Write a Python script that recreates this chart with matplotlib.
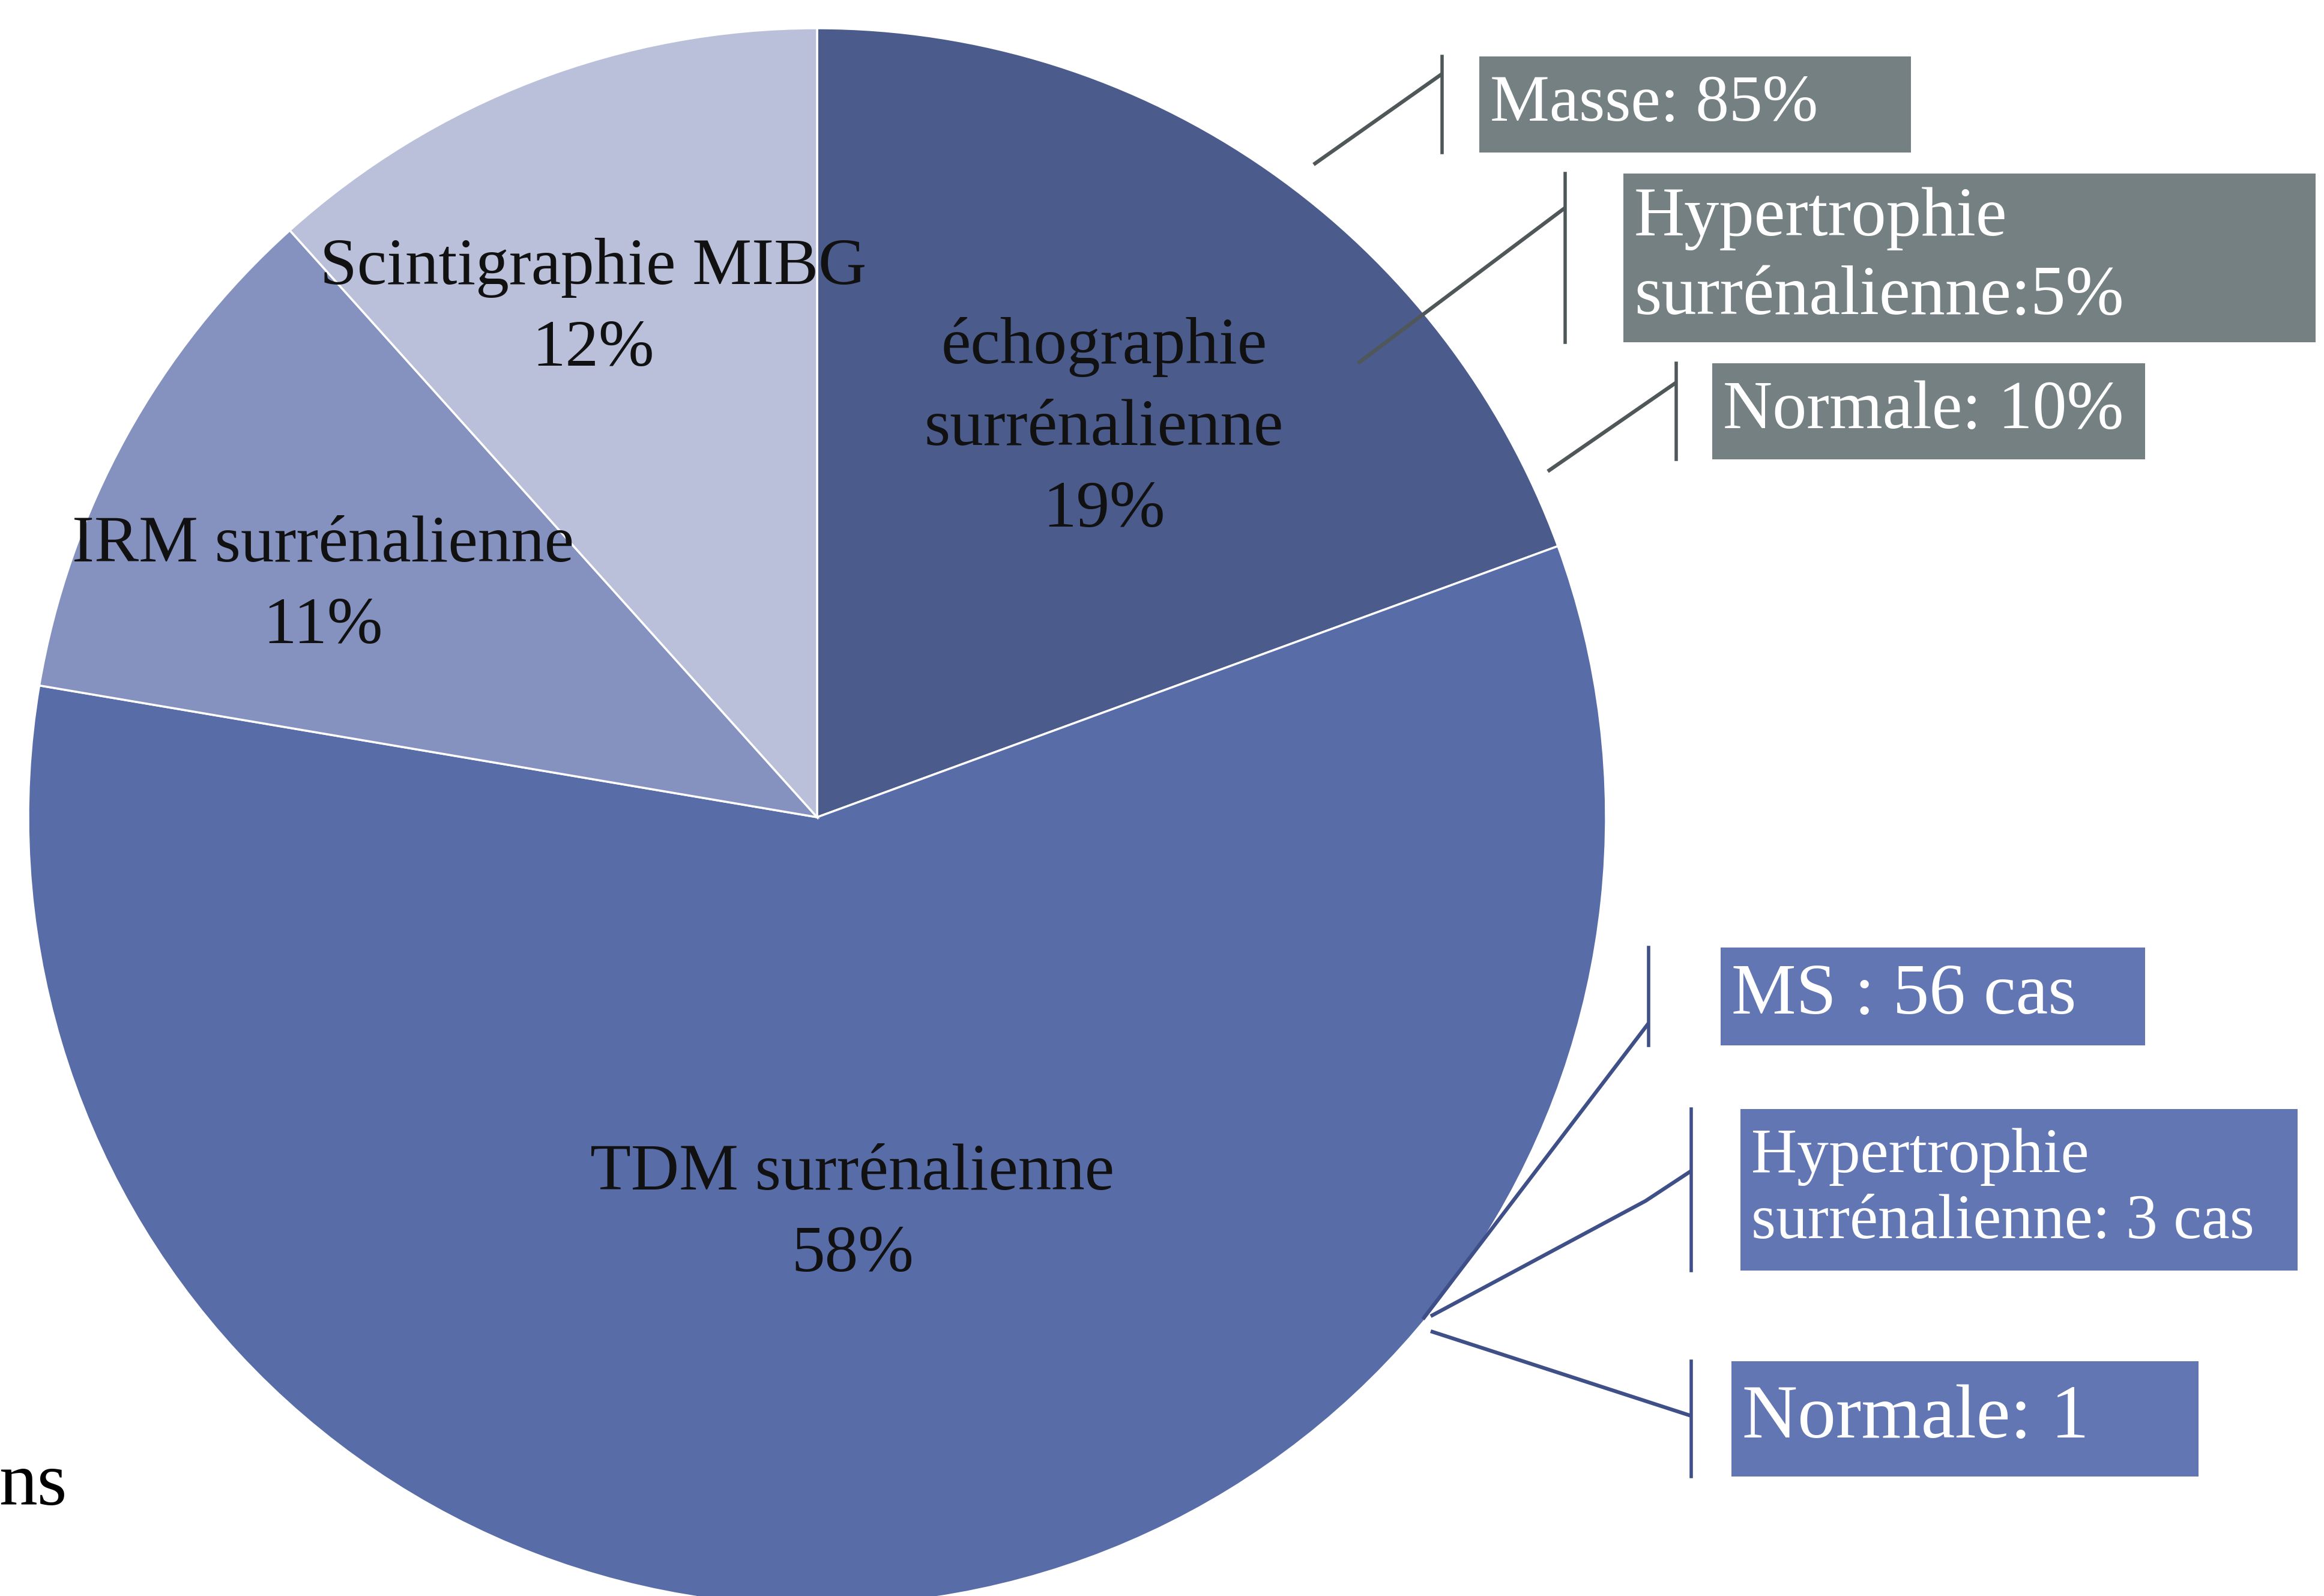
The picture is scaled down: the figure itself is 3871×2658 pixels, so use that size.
import matplotlib
matplotlib.use("Agg")
import matplotlib.pyplot as plt
from matplotlib.patches import Rectangle

# ─── Data ────────────────────────────────────────────────────────────────────
exam_labels = ["échographie\nsurrénalienne", "TDM surrénalienne",
               "IRM surrénalienne", "Scintigraphie MIBG"]
exam_counts = [20, 60, 11, 12]          # patients per exam
exam_colors = ["#4a5b8c", "#586ca8", "#8592c0", "#bac0da"]

echo_results = ["Masse: 85%", "Hypertrophie\nsurrénalienne:5%", "Normale: 10%"]
tdm_results = ["MS : 56 cas", "Hypertrophie\nsurrénalienne: 3 cas", "Normale: 1"]

W, H = 3871, 2658
GRAY = "#748081"
BLUE = "#6176b3"
GRAY_LINE = "#4f5759"
BLUE_LINE = "#3f5088"
FONT = "Liberation Serif"


def fy(y):
    # image row -> data y
    return H - y


fig = plt.figure(figsize=(W / 100, H / 100), dpi=100)
ax = fig.add_axes([0, 0, 1, 1])

cx, cy, r = 1361, 1361, 1314
ax.pie(exam_counts, colors=exam_colors, startangle=90, counterclock=False,
       center=(cx, fy(cy)), radius=r,
       wedgeprops=dict(edgecolor="white", linewidth=2.5))
ax.set_xlim(0, W)
ax.set_ylim(0, H)
ax.set_aspect("auto")
ax.axis("off")

total = sum(exam_counts)
# slice labels (image coords of centre of text block)
slice_pos = [(1839, 714), (1420, 2022), (538, 976), (988, 514)]
for lab, n, (x, y) in zip(exam_labels, exam_counts, slice_pos):
    pct = round(100 * n / total)
    ax.text(x, fy(y), f"{lab}\n{pct}%", ha="center", va="center",
            fontsize=80, family=FONT, color="#111111", linespacing=1.48)

# partial caption at lower-left edge
ax.text(112, fy(2506), "ns", ha="right", va="baseline", fontsize=92,
        family=FONT, color="black")


def callout(box, bar_x, leader, text, face, line_c, fs, ls=1.1):
    x0, y0, x1, y1 = box
    ax.add_patch(Rectangle((x0, fy(y1)), x1 - x0, y1 - y0, facecolor=face,
                           edgecolor="none", zorder=3))
    ax.plot([bar_x, bar_x], [fy(y0), fy(y1)], color=line_c, lw=4, zorder=3)
    xs = [p[0] for p in leader]
    ys = [fy(p[1]) for p in leader]
    ax.plot(xs, ys, color=line_c, lw=4.5, zorder=3,
            solid_capstyle="butt")
    ax.text(x0 + 18, fy((y0 + y1) / 2), text, ha="left", va="center",
            fontsize=fs, family=FONT, color="white", linespacing=ls, zorder=4)


# échographie results (gray)
callout((2464, 94, 3183, 254), 2402, [(2188, 274), (2402, 123)],
        echo_results[0], GRAY, GRAY_LINE, 80)
callout((2704, 289, 3857, 570), 2607, [(2262, 605), (2607, 346)],
        echo_results[1], GRAY, GRAY_LINE, 84, 1.3)
callout((2852, 605, 3573, 765), 2792, [(2578, 785), (2792, 637)],
        echo_results[2], GRAY, GRAY_LINE, 82)

# TDM results (blue)
callout((2866, 1578, 3573, 1741), 2746, [(2370, 2197), (2746, 1704)],
        tdm_results[0], BLUE, BLUE_LINE, 87)
callout((2899, 1847, 3827, 2116), 2817, [(2383, 2192), (2741, 2000), (2817, 1950)],
        tdm_results[1], BLUE, BLUE_LINE, 76, 1.19)
callout((2884, 2267, 3662, 2459), 2817, [(2383, 2217), (2817, 2358)],
        tdm_results[2], BLUE, BLUE_LINE, 92)

plt.savefig("out.png", dpi=100, facecolor="white")
plt.close()
